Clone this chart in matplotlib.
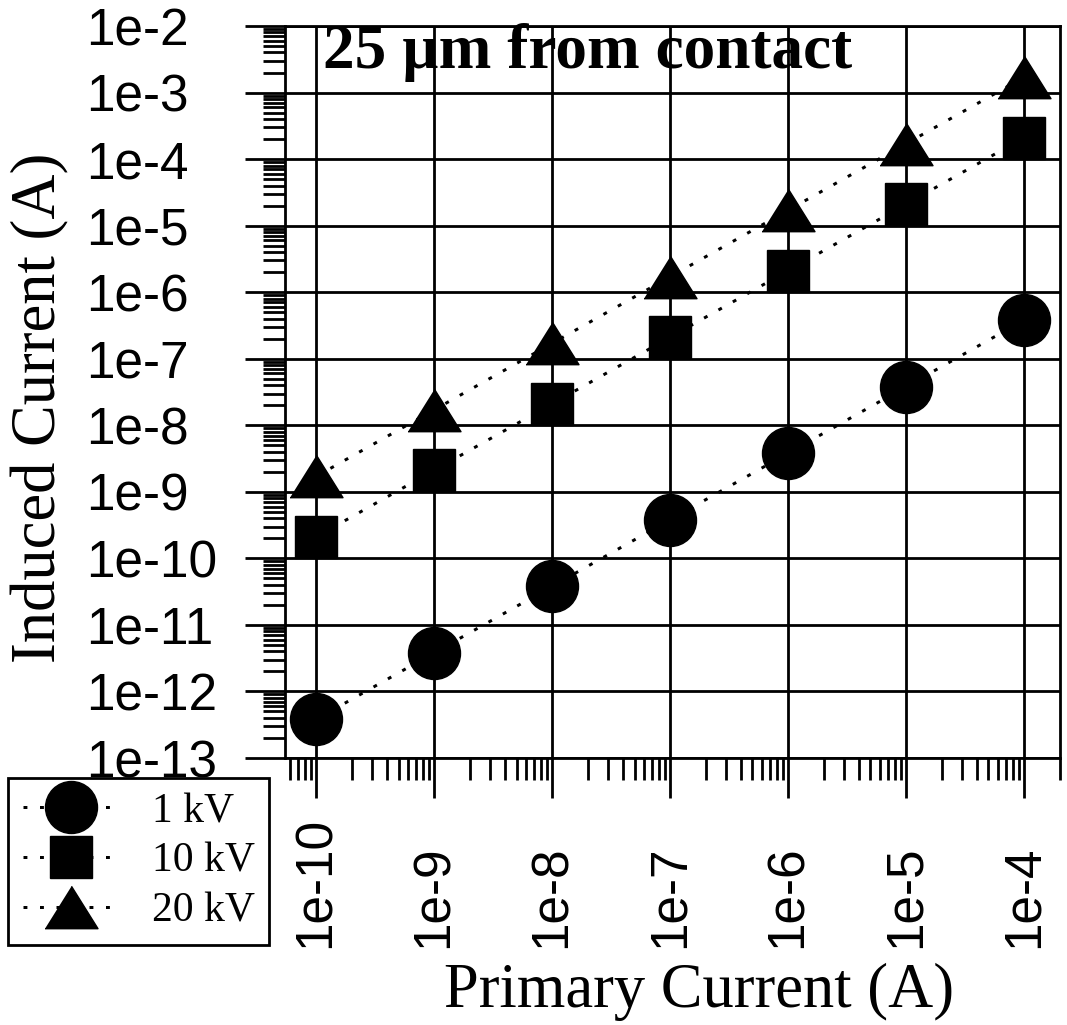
import matplotlib
matplotlib.use("Agg")
import matplotlib.pyplot as plt
from matplotlib.ticker import LogLocator, NullFormatter

# ---- data -------------------------------------------------------------
primary_current = [1e-10, 1e-9, 1e-8, 1e-7, 1e-6, 1e-5, 1e-4]
induced_1kv = [3.8e-13, 3.8e-12, 3.8e-11, 3.8e-10, 3.8e-9, 3.8e-8, 3.8e-7]
induced_10kv = [2.1e-10, 2.1e-9, 2.1e-8, 2.1e-7, 2.1e-6, 2.1e-5, 2.1e-4]
induced_20kv = [1.7e-9, 1.7e-8, 1.7e-7, 1.7e-6, 1.7e-5, 1.7e-4, 1.7e-3]
series_labels = ["1 kV", "10 kV", "20 kV"]

x_tick_values = [1e-10, 1e-9, 1e-8, 1e-7, 1e-6, 1e-5, 1e-4]
x_tick_labels = ["1e-10", "1e-9", "1e-8", "1e-7", "1e-6", "1e-5", "1e-4"]
y_tick_values = [1e-13, 1e-12, 1e-11, 1e-10, 1e-9, 1e-8, 1e-7,
                 1e-6, 1e-5, 1e-4, 1e-3, 1e-2]
y_tick_labels = ["1e-13", "1e-12", "1e-11", "1e-10", "1e-9", "1e-8", "1e-7",
                 "1e-6", "1e-5", "1e-4", "1e-3", "1e-2"]

# ---- figure -----------------------------------------------------------
W, H, DPI = 1067, 1025, 100
fig = plt.figure(figsize=(W / DPI, H / DPI), dpi=DPI)
px = 72.0 / DPI  # points per pixel

ax_left, ax_right, ax_top, ax_bottom = 285, 1060, 26, 758
ax = fig.add_axes([ax_left / W, 1 - ax_bottom / H,
                   (ax_right - ax_left) / W, (ax_bottom - ax_top) / H])
ax.set_xscale("log")
ax.set_yscale("log")
ax.set_xlim(10 ** -10.263, 10 ** -3.695)
ax.set_ylim(1e-13, 1e-2)

tri_up = [(-1, -0.8), (1, -0.8), (0, 0.8)]
dots = (0, (1.3, 4.2))
line_kw = dict(color="black", lw=3.0 * px, linestyle=dots,
               markerfacecolor="black", markeredgecolor="black", zorder=3)

ax.plot(primary_current, induced_1kv, marker="o", markersize=52 * px,
        label=series_labels[0], **line_kw)
ax.plot(primary_current, induced_10kv, marker="s", markersize=43 * px,
        label=series_labels[1], **line_kw)
ax.plot(primary_current, induced_20kv, marker=tri_up, markersize=53 * px,
        label=series_labels[2], **line_kw)

# ---- axes styling -----------------------------------------------------
for side in ["left", "right", "top", "bottom"]:
    ax.spines[side].set_linewidth(2.0)
    ax.spines[side].set_color("black")

ax.grid(True, which="major", color="black", lw=2.0)
ax.set_axisbelow(True)

ax.set_xticks(x_tick_values, labels=x_tick_labels)
ax.set_yticks(y_tick_values, labels=y_tick_labels)
ax.xaxis.set_minor_locator(LogLocator(base=10, subs=range(2, 10), numticks=50))
ax.yaxis.set_minor_locator(LogLocator(base=10, subs=range(2, 10), numticks=50))
ax.xaxis.set_minor_formatter(NullFormatter())
ax.yaxis.set_minor_formatter(NullFormatter())

ax.tick_params(which="major", direction="out", length=40 * px, width=2.0,
               color="black")
ax.tick_params(which="minor", direction="out", length=22 * px, width=2.0,
               color="black")
ax.tick_params(axis="y", which="major", pad=(245 - 86) * px,
               labelsize=37, labelfontfamily="Liberation Sans")
ax.tick_params(axis="x", which="major", pad=(947 - 797) * px,
               labelsize=37, labelfontfamily="Liberation Sans",
               labelrotation=90)
for lab in ax.get_yticklabels():
    lab.set_horizontalalignment("left")
for lab in ax.get_xticklabels():
    lab.set_verticalalignment("bottom")
    lab.set_horizontalalignment("center")

# ---- texts ------------------------------------------------------------
fig.text(699 / W, 1 - 1007 / H, "Primary Current (A)", ha="center",
         va="baseline", fontsize=45, family="Liberation Serif")
fig.text(40 / W, 1 - 408 / H, "Induced Current (A)", ha="center",
         va="center", rotation=90, fontsize=45, family="Liberation Serif")
fig.text(323 / W, 1 - 68 / H, "25 \u00b5m from contact", ha="left",
         va="baseline", fontsize=45.5, fontweight="bold",
         family="Liberation Serif")

# ---- legend -----------------------------------------------------------
leg = ax.legend(loc="upper left", bbox_to_anchor=(8 / W, 1 - 778 / H),
                bbox_transform=fig.transFigure, borderaxespad=0,
                prop={"family": "Liberation Serif", "size": 30},
                handlelength=2.3, handletextpad=0.8, labelspacing=0.27,
                borderpad=0.35, fancybox=False, framealpha=1,
                edgecolor="black")
leg.get_frame().set_linewidth(2.0)

fig.savefig("out.png", dpi=DPI)
